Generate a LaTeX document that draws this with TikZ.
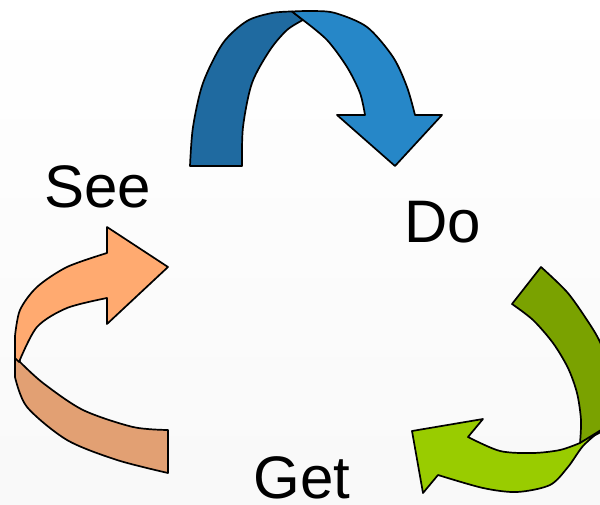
\documentclass[tikz,border=0pt]{standalone}
\usepackage{fontspec}
\setmainfont{Liberation Sans}
\definecolor{bluedark}{RGB}{31,106,160}
\definecolor{bluelight}{RGB}{38,135,200}
\definecolor{greendark}{RGB}{122,162,0}
\definecolor{greenlight}{RGB}{153,204,0}
\definecolor{orangelight}{RGB}{255,170,112}
\definecolor{orangedark}{RGB}{226,160,115}
\begin{document}
\begin{tikzpicture}[x=1pt,y=-1pt,
  band/.style={draw=black,line width=1.7pt,line join=round},
  lbl/.style={font=\fontsize{60}{62}\selectfont,anchor=base,inner sep=0pt}]
\useasboundingbox (0,0) rectangle (600,505);
\shade[top color=white,bottom color=black!2.5] (0,0) rectangle (600,505);
\clip (0,0) rectangle (600,505);

% Blue arrow (See -> Do)
\filldraw[band,fill=bluedark]
  plot[smooth] coordinates {(190,166) (193,127) (203,83) (223,43) (247,21) (272,13) (292,11.5)}
  -- (303,20)
  -- plot[smooth] coordinates {(303,20) (287,30) (270,50) (252,83) (243,127) (242,166)}
  -- cycle;
\filldraw[band,fill=bluelight]
  plot[smooth] coordinates {(292,11.5) (312,11) (335,13) (367,27) (393,57) (407,87) (415,115)}
  -- (442,115) -- (395,166) -- (337,115) -- (365,115)
  -- plot[smooth] coordinates {(365,115) (360,93) (347,67) (327,40) (303,20)}
  -- cycle;

% Green arrow (Do -> Get)
\filldraw[band,fill=greendark]
  (512,304) -- (541,267)
  -- plot[smooth] coordinates {(541,267) (567,292) (587,320) (600,342) (612,375) (614,405) (606,428) (601,432)}
  -- (580,443)
  -- plot[smooth] coordinates {(580,443) (581,420) (577,393) (568,368) (553,343) (533,320) (512,304)}
  -- cycle;
\filldraw[band,fill=greenlight]
  plot[smooth] coordinates {(580,443) (560,450) (533,453) (500,451) (468,437)}
  -- (483,419) -- (412,431) -- (423,493) -- (438,475)
  -- plot[smooth] coordinates {(438,475) (483,488) (517,492) (550,485) (568,467) (583,446) (601,430)}
  -- cycle;

% Orange arrow (Get -> See)
\filldraw[band,fill=orangedark]
  (15,337) -- (15,377)
  -- plot[smooth] coordinates {(15,377) (27,407) (67,440) (117,460) (168,473)}
  -- (168,430)
  -- plot[smooth] coordinates {(168,430) (133,427) (83,410) (43,383) (20,362)}
  -- cycle;
\filldraw[band,fill=orangelight]
  (168,267) -- (107,227) -- (107,253)
  -- plot[smooth] coordinates {(107,253) (67,267) (37,287) (20,310) (15,336)}
  -- (15,358) -- (19,362)
  -- plot[smooth] coordinates {(19,362) (37,327) (67,308) (107,298)}
  -- (107,324) -- cycle;

% Labels
\node[lbl] (see) at (97.5,208) {See};
\node[lbl] (do) at (443,243) {Do};
\node[lbl] (get) at (302,498) {Get};
\end{tikzpicture}
\end{document}
